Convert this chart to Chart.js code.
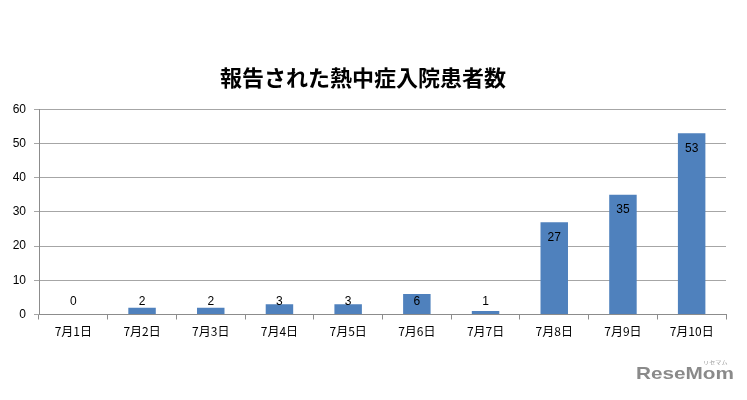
<!DOCTYPE html>
<html><head><meta charset="utf-8">
<script src="https://cdn.jsdelivr.net/npm/chart.js@4"></script>
<style>
html,body{margin:0;padding:0;background:#fff;}
#wrap{position:relative;width:747px;height:400px;}
#mark{position:absolute;left:636px;top:364px;font:bold 17px "Liberation Sans",Arial,sans-serif;color:#8a8a8a;transform:scaleX(1.22);transform-origin:left top;white-space:nowrap;}
#mark small{position:absolute;left:55px;top:-6px;font:5px "Noto Sans CJK JP";color:#999;}
</style></head>
<body><div id="wrap"><canvas id="c" width="747" height="400"></canvas>
<div id="mark">ReseMom<small>リセマム</small></div></div>
<script>
const categories = ["7月1日","7月2日","7月3日","7月4日","7月5日","7月6日","7月7日","7月8日","7月9日","7月10日"];
const patients = [0,2,2,3,3,6,1,27,35,53];
const yTicks = [0,10,20,30,40,50,60];
const titleText = "報告された熱中症入院患者数";

const labelPlugin = {
  id:'vals',
  afterDatasetsDraw(chart){
    const ctx = chart.ctx, meta = chart.getDatasetMeta(0), y = chart.scales.y;
    const zero = y.getPixelForValue(0);
    ctx.save();
    ctx.font = '12px "Liberation Sans", Arial, sans-serif';
    ctx.fillStyle = '#000';
    ctx.textAlign = 'center'; ctx.textBaseline = 'middle';
    meta.data.forEach((bar,i)=>{
      const cy = Math.min(bar.y + 15, zero - 13);
      ctx.fillText(String(patients[i]), bar.x, cy);
    });
    ctx.restore();
  }
};

new Chart(document.getElementById('c'), {
  type:'bar',
  data:{labels:categories, datasets:[{data:patients, backgroundColor:'#4f81bd', barPercentage:0.4, categoryPercentage:1}]},
  options:{
    responsive:false, animation:false,
    layout:{padding:{left:0,right:21,top:0,bottom:0}},
    plugins:{
      legend:{display:false}, tooltip:{enabled:false},
      title:{display:true, text:titleText, color:'#000',
        font:{family:'"Noto Sans CJK JP"', size:22, weight:'bold'},
        padding:{top:64,bottom:19}}
    },
    scales:{
      x:{
        grid:{display:true, drawOnChartArea:false, drawTicks:true, tickLength:5, color:'#8c8c8c', offset:true},
        border:{color:'#8c8c8c'},
        ticks:{color:'#000', font:{family:'"Noto Sans CJK JP"', size:12}, padding:5, maxRotation:0},
        afterFit(s){ s.height = 85.5; }
      },
      y:{
        min:0, max:60,
        afterBuildTicks(s){ s.ticks = yTicks.map(v=>({value:v})); },
        grid:{color:'#a6a6a6', tickLength:5, drawTicks:true},
        border:{color:'#8c8c8c'},
        ticks:{color:'#000', font:{family:'"Liberation Sans", Arial, sans-serif', size:12}, padding:8},
        afterFit(s){ s.width = 39; }
      }
    }
  },
  plugins:[labelPlugin]
});
</script></body></html>
